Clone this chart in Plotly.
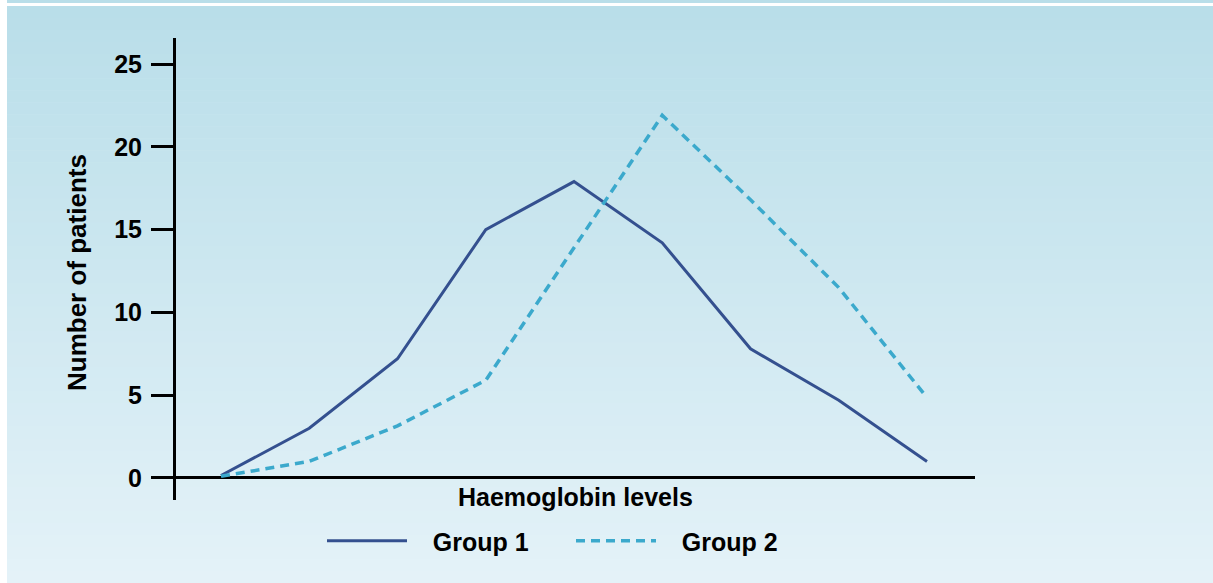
import plotly.graph_objects as go

# Data
levels = [0, 1, 2, 3, 4, 5, 6, 7, 8]           # haemoglobin level bins (no tick labels shown)
group1 = [0.15, 3.0, 7.2, 15.0, 17.9, 14.2, 7.8, 4.7, 1.0]
group2 = [0.1, 1.0, 3.15, 5.9, 13.9, 21.9, 16.8, 11.5, 4.85]
y_ticks = [0, 5, 10, 15, 20, 25]

W, H = 1213, 583
L, R, T, B = 176, 975, 38, 500   # plot area in page pixels

def px2paper_x(px):
    return (px - L) / (R - L)

def px2paper_y(py):
    return (B - py) / (B - T)

fig = go.Figure()
fig.add_trace(go.Scatter(x=levels, y=group1, mode="lines", name="\u00a0\u00a0\u00a0Group 1",
                         line=dict(color="#34508f", width=3)))
fig.add_trace(go.Scatter(x=levels, y=group2, mode="lines", name="\u00a0\u00a0\u00a0Group 2",
                         line=dict(color="#3ba9cc", width=3.5, dash="9px,6px")))

# background gradient (bands)
top_c = (185, 222, 233)
bot_c = (228, 242, 248)
shapes = []
n = 48
y_start, y_end = 6, 583
for i in range(n):
    t = i / (n - 1)
    c = tuple(round(top_c[k] + (bot_c[k] - top_c[k]) * t) for k in range(3))
    py0 = y_start + (y_end - y_start) * i / n
    py1 = y_start + (y_end - y_start) * (i + 1) / n + 0.6
    shapes.append(dict(type="rect", xref="paper", yref="paper", layer="below",
                       x0=px2paper_x(7), x1=px2paper_x(1220),
                       y0=px2paper_y(py1), y1=px2paper_y(py0),
                       line=dict(width=0), fillcolor="rgb(%d,%d,%d)" % c))
# thin blue strip above the white rule at the top
shapes.append(dict(type="rect", xref="paper", yref="paper", layer="below",
                   x0=px2paper_x(7), x1=px2paper_x(1220),
                   y0=px2paper_y(3), y1=px2paper_y(-5),
                   line=dict(width=0), fillcolor="rgb(185,222,233)"))
# white rule at top and white strip at left
shapes.append(dict(type="rect", xref="paper", yref="paper", layer="below",
                   x0=px2paper_x(7), x1=px2paper_x(1220),
                   y0=px2paper_y(6), y1=px2paper_y(3),
                   line=dict(width=0), fillcolor="white"))
shapes.append(dict(type="rect", xref="paper", yref="paper", layer="below",
                   x0=px2paper_x(-5), x1=px2paper_x(7),
                   y0=px2paper_y(590), y1=px2paper_y(-5),
                   line=dict(width=0), fillcolor="white"))

font = "Liberation Sans, Arial, sans-serif"
fig.update_layout(
    width=W, height=H,
    margin=dict(l=L, r=W - R, t=T, b=H - B, pad=0),
    paper_bgcolor="rgb(228,242,248)", plot_bgcolor="rgba(0,0,0,0)",
    shapes=shapes,
    font=dict(family=font, size=25, color="black"),
    xaxis=dict(range=[-0.51, 8.544], showgrid=False, zeroline=False,
               showline=False, showticklabels=False, ticks=""),
    yaxis=dict(range=[-1.33, 26.57], showgrid=False, tickvals=y_ticks,
               showline=True, linecolor="black", linewidth=3,
               ticks="outside", ticklen=22, tickwidth=2.5, tickcolor="black",
               zeroline=True, zerolinecolor="black", zerolinewidth=3,
               tickfont=dict(family=font, size=25, color="black", weight="bold"),
               ticklabelstandoff=4),
    showlegend=True,
    legend=dict(orientation="h", x=px2paper_x(322), y=px2paper_y(518),
                xanchor="left", yanchor="top", bgcolor="rgba(0,0,0,0)",
                font=dict(family=font, size=25, color="black", weight="bold"),
                itemwidth=80, tracegroupgap=0,
                entrywidth=154, entrywidthmode="pixels"),
    annotations=[
        dict(text="<b>Haemoglobin levels</b>", xref="paper", yref="paper",
             x=px2paper_x(575), y=px2paper_y(497), showarrow=False,
             xanchor="center", yanchor="middle",
             font=dict(family=font, size=25, color="black")),
        dict(text="<b>Number of patients</b>", xref="paper", yref="paper",
             x=px2paper_x(77), y=px2paper_y(273), showarrow=False, textangle=-90,
             xanchor="center", yanchor="middle",
             font=dict(family=font, size=26, color="black")),
    ],
)

fig.write_html("out.html",
               config={"displayModeBar": False},
               post_script="document.body.style.margin='0';"
                           "document.body.style.overflow='hidden';"
                           "document.body.style.background='rgb(226,241,247)';")
